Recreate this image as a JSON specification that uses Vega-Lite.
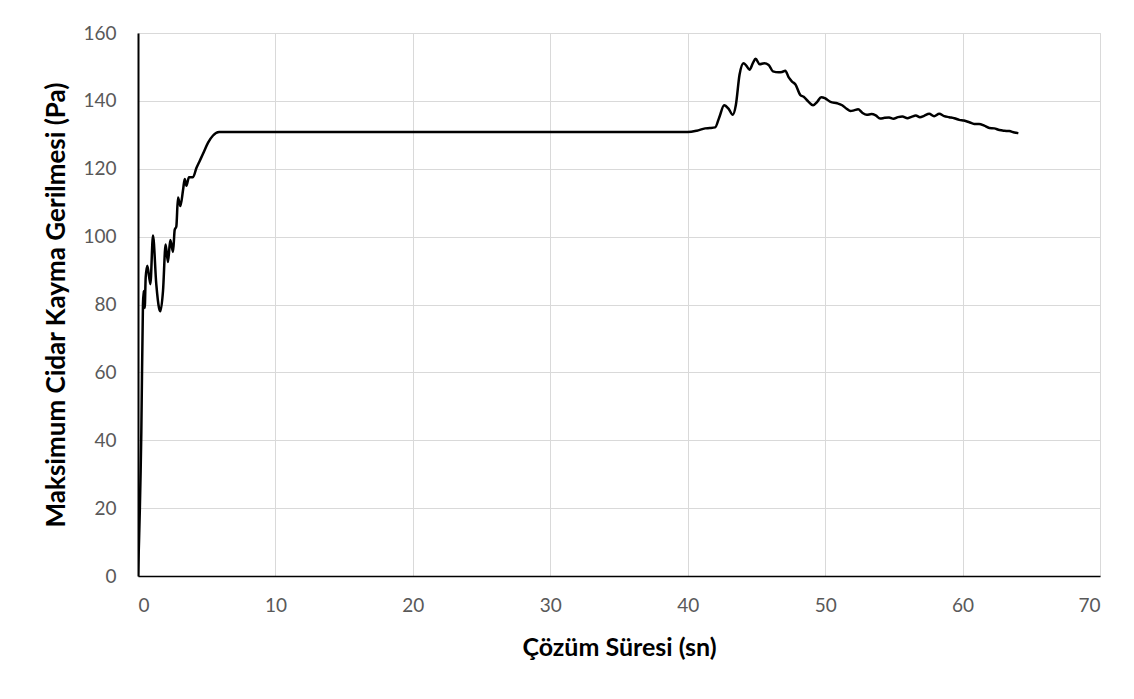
{
  "$schema": "https://vega.github.io/schema/vega-lite/v6.json",
  "autosize": {"type": "none"},
  "padding": {"left": 138, "top": 33, "right": 34, "bottom": 123},
  "width": 962,
  "height": 543,
  "background": "white",
  "config": {
    "view": {"stroke": "#d9d9d9", "strokeWidth": 1},
    "font": "Lato",
    "axis": {
      "gridColor": "#d9d9d9",
      "gridWidth": 1,
      "domainColor": "black",
      "domainWidth": 2,
      "ticks": false,
      "tickSize": 0,
      "labelColor": "#595959",
      "labelFontSize": 19,
      "labelFont": "Lato",
      "titleFont": "Lato",
      "titleFontSize": 25,
      "titleFontWeight": "bold",
      "titleColor": "black"
    }
  },
  "data": {
    "values": [
      {"t": 0, "v": 0},
      {"t": 0.24, "v": 42},
      {"t": 0.36, "v": 80},
      {"t": 0.41, "v": 84},
      {"t": 0.49, "v": 79},
      {"t": 0.56, "v": 88},
      {"t": 0.68, "v": 91.4},
      {"t": 0.9, "v": 86},
      {"t": 1.09, "v": 100.3},
      {"t": 1.33, "v": 86},
      {"t": 1.53, "v": 79},
      {"t": 1.63, "v": 78},
      {"t": 1.82, "v": 84},
      {"t": 2.01, "v": 97.7},
      {"t": 2.18, "v": 92.5},
      {"t": 2.35, "v": 99},
      {"t": 2.55, "v": 95.5},
      {"t": 2.67, "v": 102},
      {"t": 2.79, "v": 103},
      {"t": 2.91, "v": 111.5},
      {"t": 3.08, "v": 109},
      {"t": 3.28, "v": 113.8},
      {"t": 3.4, "v": 117},
      {"t": 3.52, "v": 115},
      {"t": 3.71, "v": 117.5},
      {"t": 4.0, "v": 117.5},
      {"t": 4.25, "v": 120.2},
      {"t": 4.49, "v": 122.3},
      {"t": 4.73, "v": 124.4},
      {"t": 5.1, "v": 127.7},
      {"t": 5.46, "v": 129.8},
      {"t": 5.9, "v": 130.8},
      {"t": 12.5, "v": 130.8},
      {"t": 25, "v": 130.8},
      {"t": 38, "v": 130.8},
      {"t": 40, "v": 130.8},
      {"t": 40.66, "v": 131.2},
      {"t": 41.27, "v": 131.9},
      {"t": 41.6, "v": 132},
      {"t": 42.0, "v": 132.2},
      {"t": 42.3, "v": 135.2},
      {"t": 42.65, "v": 138.7},
      {"t": 42.97, "v": 137.7},
      {"t": 43.28, "v": 135.9},
      {"t": 43.5, "v": 138.7},
      {"t": 43.77, "v": 147.7},
      {"t": 44.06, "v": 151.1},
      {"t": 44.26, "v": 150.4},
      {"t": 44.5, "v": 149.2},
      {"t": 44.74, "v": 151.1},
      {"t": 44.94, "v": 152.4},
      {"t": 45.23, "v": 150.8},
      {"t": 45.57, "v": 151.1},
      {"t": 45.89, "v": 150.6},
      {"t": 46.2, "v": 148.7},
      {"t": 46.62, "v": 148.4},
      {"t": 46.86, "v": 148.5},
      {"t": 47.1, "v": 148.9},
      {"t": 47.35, "v": 146.9},
      {"t": 47.59, "v": 145.7},
      {"t": 47.83, "v": 144.9},
      {"t": 48.2, "v": 141.7},
      {"t": 48.44, "v": 141.2},
      {"t": 48.8, "v": 139.7},
      {"t": 49.12, "v": 138.7},
      {"t": 49.42, "v": 139.7},
      {"t": 49.71, "v": 141.1},
      {"t": 50.02, "v": 140.7},
      {"t": 50.39, "v": 139.7},
      {"t": 50.88, "v": 139.3},
      {"t": 51.24, "v": 138.7},
      {"t": 51.56, "v": 137.7},
      {"t": 51.85, "v": 137.0},
      {"t": 52.1, "v": 137.2},
      {"t": 52.4, "v": 137.5},
      {"t": 52.7, "v": 136.5},
      {"t": 53.03, "v": 135.9},
      {"t": 53.37, "v": 136.1},
      {"t": 53.68, "v": 135.7},
      {"t": 54.0, "v": 134.8},
      {"t": 54.33, "v": 135.0},
      {"t": 54.65, "v": 135.1},
      {"t": 54.97, "v": 134.7},
      {"t": 55.3, "v": 135.2},
      {"t": 55.62, "v": 135.4},
      {"t": 55.99, "v": 134.9},
      {"t": 56.28, "v": 135.3},
      {"t": 56.6, "v": 135.7},
      {"t": 56.9, "v": 135.2},
      {"t": 57.2, "v": 135.6},
      {"t": 57.57, "v": 136.2},
      {"t": 57.93, "v": 135.5},
      {"t": 58.3, "v": 136.2},
      {"t": 58.66, "v": 135.5},
      {"t": 59.03, "v": 135.2},
      {"t": 59.4, "v": 134.9},
      {"t": 59.76, "v": 134.4},
      {"t": 60.1, "v": 134.2},
      {"t": 60.49, "v": 133.7},
      {"t": 60.85, "v": 133.2},
      {"t": 61.2, "v": 133.2},
      {"t": 61.58, "v": 132.7},
      {"t": 61.95, "v": 132.0},
      {"t": 62.3, "v": 131.9},
      {"t": 62.68, "v": 131.4},
      {"t": 63.04, "v": 131.2},
      {"t": 63.4, "v": 131.1},
      {"t": 63.77, "v": 130.7},
      {"t": 64.06, "v": 130.5}
    ]
  },
  "mark": {"type": "line", "color": "black", "strokeWidth": 2.5, "interpolate": "monotone", "clip": true},
  "encoding": {
    "x": {
      "field": "t",
      "type": "quantitative",
      "scale": {"domain": [0, 70], "nice": false},
      "axis": {
        "title": "Çözüm Süresi (sn)",
        "values": [0, 10, 20, 30, 40, 50, 60, 70],
        "labelPadding": 20,
        "titlePadding": 20,
        "domainWidth": 1.5
      }
    },
    "y": {
      "field": "v",
      "type": "quantitative",
      "scale": {"domain": [0, 160], "nice": false},
      "axis": {
        "title": "Maksimum Cidar  Kayma Gerilmesi (Pa)",
        "values": [0, 20, 40, 60, 80, 100, 120, 140, 160],
        "labelPadding": 22,
        "titlePadding": 13,
        "titleFontSize": 26,
        "domainWidth": 2
      }
    }
  }
}
